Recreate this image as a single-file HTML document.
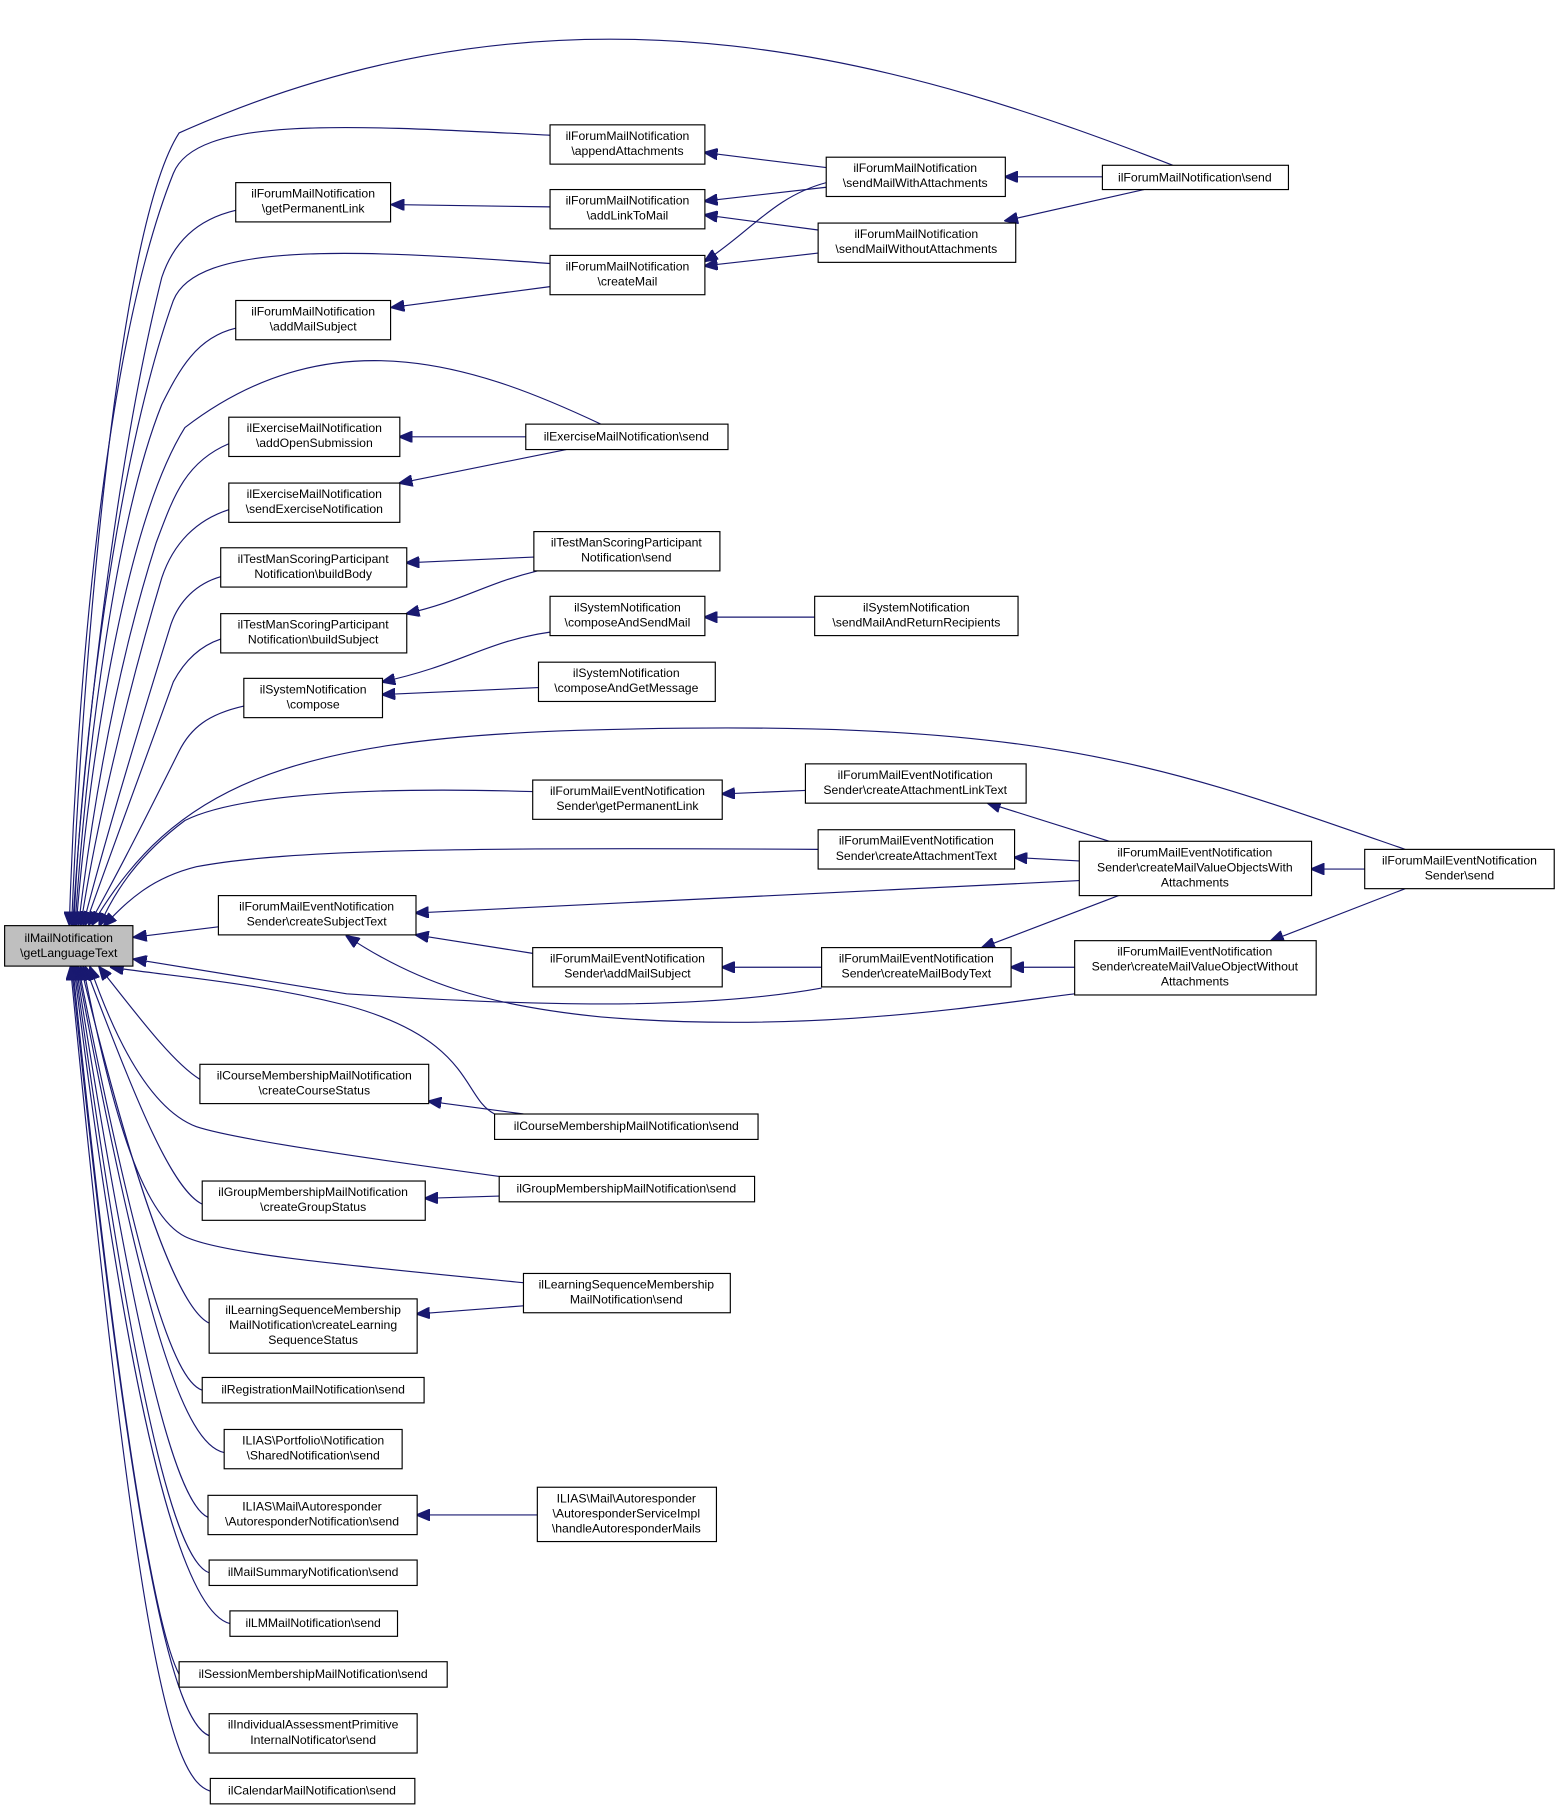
<!DOCTYPE html>
<html><head><meta charset="utf-8"><style>
html,body{margin:0;padding:0;background:#fff}
svg{display:block}
text{font-family:"Liberation Sans",sans-serif;font-size:10.6px;fill:#000}
.n{fill:#fff;stroke:#000;stroke-width:1}
.e{fill:none;stroke:#191970;stroke-width:1}
</style></head><body>
<svg width="1560" height="1812" viewBox="0 0 1350 1568" xmlns="http://www.w3.org/2000/svg">
<defs><marker id="a" markerWidth="12" markerHeight="10" refX="11" refY="5" orient="auto" markerUnits="userSpaceOnUse"><path d="M0,0 L12,5 L0,10 z" fill="#191970" stroke="#191970"/></marker></defs>

<g class="e" marker-end="url(#a)">
<!-- edges into root (top) -->
<path d="M1015,143 C800,60 500,-40 155,115 C100,200 70,600 62,800"/>
<path d="M476,117 C300,108 170,100 150,150 C90,300 66,600 60,800"/>
<path d="M204,182 C170,190 150,210 140,240 C100,400 72,650 63,800"/>
<path d="M476,228 C300,215 170,210 150,260 C100,400 70,650 64,800"/>
<path d="M204,284 C170,292 155,320 140,350 C100,450 75,650 65,800"/>
<path d="M520,367 C420,320 290,270 160,370 C110,450 78,650 66,800"/>
<path d="M198,384 C160,400 150,430 135,470 C100,580 80,700 68,800"/>
<path d="M198,441 C170,450 150,470 140,500 C110,600 82,720 70,800"/>
<path d="M191,499 C170,505 155,520 148,540 C120,630 90,730 72,800"/>
<path d="M191,553 C170,560 158,575 150,590 C125,660 95,740 74,800"/>
<path d="M211,611 C180,618 165,630 155,650 C130,700 100,760 77,800"/>
<path d="M1216,735 C1000,660 900,620 500,632 C250,640 150,680 80,800"/>
<path d="M461,685 C300,680 200,690 160,710 C120,740 100,770 86,801"/>
<path d="M708,735 C400,733 250,735 170,750 C130,760 110,780 90,801"/>
<!-- middle -->
<path d="M189,802 L116,811"/>
<path d="M711,855 C600,875 450,870 300,860 L116,830"/>
<!-- bottom -->
<path d="M428,964 C400,950 410,900 300,870 C220,850 150,845 96,837"/>
<path d="M173,934 C150,920 120,880 86,837"/>
<path d="M432,1018 C300,1000 200,985 170,975 C130,960 100,900 78,837"/>
<path d="M175,1042 C150,1030 120,960 74,837"/>
<path d="M453,1110 C300,1095 190,1085 160,1070 C120,1050 95,950 72,837"/>
<path d="M181,1145 C150,1130 110,1000 70,837"/>
<path d="M175,1203 C150,1195 120,1100 68,837"/>
<path d="M194,1257 C160,1250 125,1150 67,837"/>
<path d="M180,1313 C150,1300 115,1150 66,837"/>
<path d="M181,1361 C150,1350 115,1200 65,837"/>
<path d="M199,1405 C160,1395 115,1250 64,837"/>
<path d="M155,1449 C140,1420 110,1300 63,837"/>
<path d="M181,1502 C150,1490 115,1350 62,837"/>
<path d="M182,1550 C150,1540 120,1450 61,837"/>
<!-- inner edges -->
<path d="M476,179 L339,177"/>
<path d="M476,248 L339,266"/>
<path d="M715,145 L610,132"/>
<path d="M715,162 L610,174"/>
<path d="M708,199 L610,186"/>
<path d="M715,158 C670,170 650,200 610,226"/>
<path d="M708,219 L610,230"/>
<path d="M954,153 L870,153"/>
<path d="M990,164 L870,191"/>
<path d="M455,378 L346,378"/>
<path d="M490,389 L346,418"/>
<path d="M462,482 L352,487"/>
<path d="M465,494 C420,505 400,520 352,531"/>
<path d="M476,547 C420,555 400,575 331,590"/>
<path d="M466,595 L331,601"/>
<path d="M705,534 L610,534"/>
<path d="M697,684 L625,687"/>
<path d="M960,728 L855,695"/>
<path d="M934,745 L878,742"/>
<path d="M934,762 L360,790"/>
<path d="M1181,752 L1135,752"/>
<path d="M968,775 L850,820"/>
<path d="M1216,769 L1100,814"/>
<path d="M461,825 L360,809"/>
<path d="M711,837 L625,837"/>
<path d="M930,837 L875,837"/>
<path d="M930,860 C850,870 700,895 520,880 C420,870 360,850 300,810"/>
<path d="M453,964 L371,953"/>
<path d="M432,1035 L368,1037"/>
<path d="M453,1130 L361,1137"/>
<path d="M465,1311 L361,1311"/>
</g>

<g>
<rect x="4" y="801" width="111" height="35" fill="#bfbfbf" stroke="#000"/>
<text x="59.5" y="815" text-anchor="middle">ilMailNotification</text><text x="59.5" y="828" text-anchor="middle">\getLanguageText</text>
</g>
<g text-anchor="middle">
<rect class="n" x="476" y="108" width="134" height="34"/><text x="543" y="121">ilForumMailNotification</text><text x="543" y="134">\appendAttachments</text>
<rect class="n" x="204" y="158" width="134" height="34"/><text x="271" y="171">ilForumMailNotification</text><text x="271" y="184">\getPermanentLink</text>
<rect class="n" x="476" y="164" width="134" height="34"/><text x="543" y="177">ilForumMailNotification</text><text x="543" y="190">\addLinkToMail</text>
<rect class="n" x="476" y="221" width="134" height="34"/><text x="543" y="234">ilForumMailNotification</text><text x="543" y="247">\createMail</text>
<rect class="n" x="204" y="260" width="134" height="34"/><text x="271" y="273">ilForumMailNotification</text><text x="271" y="286">\addMailSubject</text>
<rect class="n" x="715" y="136" width="155" height="34"/><text x="792" y="149">ilForumMailNotification</text><text x="792" y="162">\sendMailWithAttachments</text>
<rect class="n" x="708" y="193" width="171" height="34"/><text x="793" y="206">ilForumMailNotification</text><text x="793" y="219">\sendMailWithoutAttachments</text>
<rect class="n" x="954" y="143" width="161" height="21"/><text x="1034" y="157">ilForumMailNotification\send</text>
<rect class="n" x="455" y="367" width="175" height="22"/><text x="542" y="381">ilExerciseMailNotification\send</text>
<rect class="n" x="198" y="361" width="148" height="34"/><text x="272" y="374">ilExerciseMailNotification</text><text x="272" y="387">\addOpenSubmission</text>
<rect class="n" x="198" y="418" width="148" height="34"/><text x="272" y="431">ilExerciseMailNotification</text><text x="272" y="444">\sendExerciseNotification</text>
<rect class="n" x="191" y="474" width="161" height="34"/><text x="271" y="487">ilTestManScoringParticipant</text><text x="271" y="500">Notification\buildBody</text>
<rect class="n" x="191" y="531" width="161" height="34"/><text x="271" y="544">ilTestManScoringParticipant</text><text x="271" y="557">Notification\buildSubject</text>
<rect class="n" x="462" y="460" width="161" height="34"/><text x="542" y="473">ilTestManScoringParticipant</text><text x="542" y="486">Notification\send</text>
<rect class="n" x="211" y="587" width="120" height="34"/><text x="271" y="600">ilSystemNotification</text><text x="271" y="613">\compose</text>
<rect class="n" x="476" y="516" width="134" height="34"/><text x="543" y="529">ilSystemNotification</text><text x="543" y="542">\composeAndSendMail</text>
<rect class="n" x="466" y="573" width="153" height="34"/><text x="542" y="586">ilSystemNotification</text><text x="542" y="599">\composeAndGetMessage</text>
<rect class="n" x="705" y="516" width="176" height="34"/><text x="793" y="529">ilSystemNotification</text><text x="793" y="542">\sendMailAndReturnRecipients</text>
<rect class="n" x="461" y="675" width="164" height="34"/><text x="543" y="688">ilForumMailEventNotification</text><text x="543" y="701">Sender\getPermanentLink</text>
<rect class="n" x="697" y="661" width="191" height="34"/><text x="792" y="674">ilForumMailEventNotification</text><text x="792" y="687">Sender\createAttachmentLinkText</text>
<rect class="n" x="708" y="718" width="170" height="34"/><text x="793" y="731">ilForumMailEventNotification</text><text x="793" y="744">Sender\createAttachmentText</text>
<rect class="n" x="934" y="728" width="201" height="47"/><text x="1034" y="741">ilForumMailEventNotification</text><text x="1034" y="754">Sender\createMailValueObjectsWith</text><text x="1034" y="767">Attachments</text>
<rect class="n" x="1181" y="735" width="164" height="34"/><text x="1263" y="748">ilForumMailEventNotification</text><text x="1263" y="761">Sender\send</text>
<rect class="n" x="189" y="775" width="171" height="34"/><text x="274" y="788">ilForumMailEventNotification</text><text x="274" y="801">Sender\createSubjectText</text>
<rect class="n" x="461" y="820" width="164" height="34"/><text x="543" y="833">ilForumMailEventNotification</text><text x="543" y="846">Sender\addMailSubject</text>
<rect class="n" x="711" y="820" width="164" height="34"/><text x="793" y="833">ilForumMailEventNotification</text><text x="793" y="846">Sender\createMailBodyText</text>
<rect class="n" x="930" y="814" width="209" height="47"/><text x="1034" y="827">ilForumMailEventNotification</text><text x="1034" y="840">Sender\createMailValueObjectWithout</text><text x="1034" y="853">Attachments</text>
<rect class="n" x="173" y="921" width="198" height="34"/><text x="272" y="934">ilCourseMembershipMailNotification</text><text x="272" y="947">\createCourseStatus</text>
<rect class="n" x="428" y="964" width="228" height="22"/><text x="542" y="978">ilCourseMembershipMailNotification\send</text>
<rect class="n" x="175" y="1022" width="193" height="34"/><text x="271" y="1035">ilGroupMembershipMailNotification</text><text x="271" y="1048">\createGroupStatus</text>
<rect class="n" x="432" y="1018" width="221" height="22"/><text x="542" y="1032">ilGroupMembershipMailNotification\send</text>
<rect class="n" x="453" y="1102" width="179" height="34"/><text x="542" y="1115">ilLearningSequenceMembership</text><text x="542" y="1128">MailNotification\send</text>
<rect class="n" x="181" y="1124" width="180" height="47"/><text x="271" y="1137">ilLearningSequenceMembership</text><text x="271" y="1150">MailNotification\createLearning</text><text x="271" y="1163">SequenceStatus</text>
<rect class="n" x="175" y="1192" width="192" height="22"/><text x="271" y="1206">ilRegistrationMailNotification\send</text>
<rect class="n" x="194" y="1237" width="154" height="34"/><text x="271" y="1250">ILIAS\Portfolio\Notification</text><text x="271" y="1263">\SharedNotification\send</text>
<rect class="n" x="180" y="1294" width="181" height="34"/><text x="270" y="1307">ILIAS\Mail\Autoresponder</text><text x="270" y="1320">\AutoresponderNotification\send</text>
<rect class="n" x="465" y="1287" width="155" height="47"/><text x="542" y="1300">ILIAS\Mail\Autoresponder</text><text x="542" y="1313">\AutoresponderServiceImpl</text><text x="542" y="1326">\handleAutoresponderMails</text>
<rect class="n" x="181" y="1350" width="180" height="22"/><text x="271" y="1364">ilMailSummaryNotification\send</text>
<rect class="n" x="199" y="1394" width="145" height="22"/><text x="271" y="1408">ilLMMailNotification\send</text>
<rect class="n" x="155" y="1438" width="232" height="22"/><text x="271" y="1452">ilSessionMembershipMailNotification\send</text>
<rect class="n" x="181" y="1483" width="180" height="34"/><text x="271" y="1496">ilIndividualAssessmentPrimitive</text><text x="271" y="1509">InternalNotificator\send</text>
<rect class="n" x="182" y="1539" width="177" height="22"/><text x="270" y="1553">ilCalendarMailNotification\send</text>
</g>
</svg>
</body></html>
